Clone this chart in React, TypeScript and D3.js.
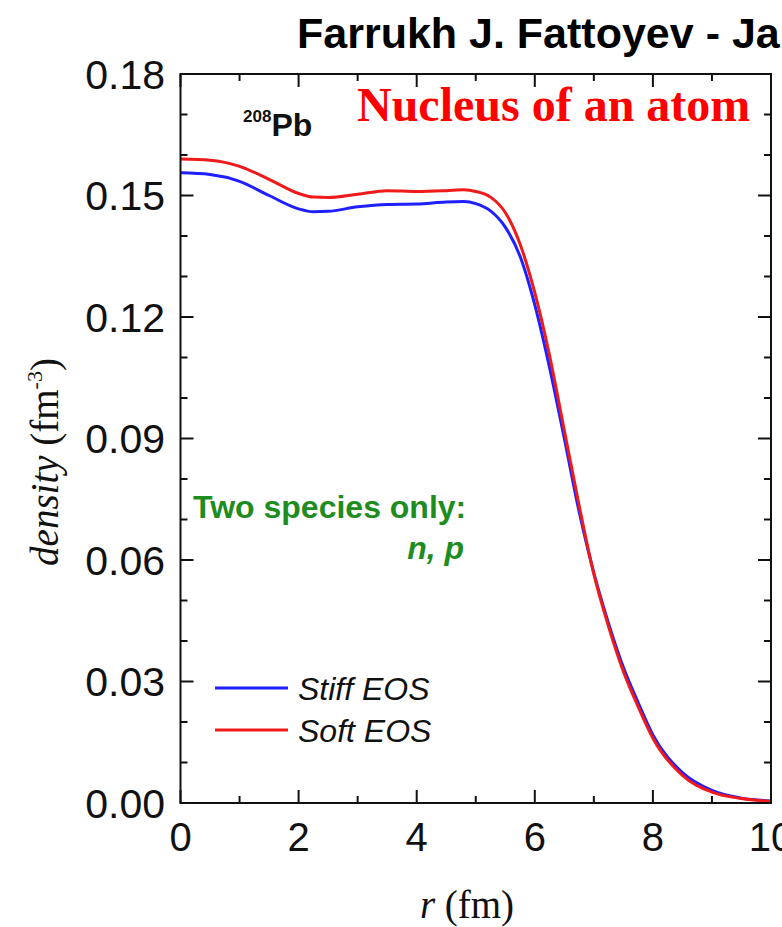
import React from "react";
import * as d3 from "d3";

// Radial density profiles of 208Pb
const radius = [0, 0.5, 1, 1.5, 2, 2.25, 2.5, 3, 3.5, 4, 4.5, 4.8, 5, 5.25, 5.5, 5.75, 6, 6.25, 6.5, 6.75, 7, 7.25, 7.5, 7.75, 8, 8.5, 9, 9.5, 10];
const stiffEOS = [0.1556, 0.1552, 0.1535, 0.15, 0.1467, 0.146, 0.1461, 0.1472, 0.1478, 0.1479, 0.1484, 0.1485, 0.148, 0.1462, 0.1422, 0.135, 0.123, 0.1075, 0.09, 0.072, 0.0568, 0.0443, 0.0335, 0.0248, 0.0168, 0.0075, 0.0031, 0.0012, 0.0005];
const softEOS = [0.159, 0.1587, 0.1572, 0.154, 0.1505, 0.1496, 0.1495, 0.1503, 0.1512, 0.151, 0.1512, 0.1514, 0.151, 0.1496, 0.1458, 0.138, 0.126, 0.1105, 0.092, 0.0735, 0.0565, 0.0435, 0.0325, 0.0238, 0.016, 0.0068, 0.0027, 0.0011, 0.0004];

const xTicks = [0, 2, 4, 6, 8, 10];
const xMinorTicks = [1, 3, 5, 7, 9];
const yTicks = [0, 0.03, 0.06, 0.09, 0.12, 0.15, 0.18];
const yMinorTicks = [0.01, 0.02, 0.04, 0.05, 0.07, 0.08, 0.1, 0.11, 0.13, 0.14, 0.16, 0.17];

const W = 782;
const H = 927;

export default function App() {
  const x = d3.scaleLinear().domain([0, 10]).range([180.5, 771]);
  const y = d3.scaleLinear().domain([0, 0.18]).range([803, 74]);
  const line = (vals: number[]) =>
    d3
      .line<number>()
      .x((_, i) => x(radius[i]))
      .y((v) => y(v))
      .curve(d3.curveMonotoneX)(vals) as string;

  const [x0, x1] = x.range();
  const [y0, y1] = y.range();
  const sans = "'Liberation Sans', Arial, sans-serif";
  const serif = "'Liberation Serif', 'Times New Roman', serif";
  const tickColor = "#111";

  return (
    <svg width={W} height={H} style={{ position: "absolute", left: 0, top: 0, background: "#fff" }}>
      <rect width={W} height={H} fill="#fff" />
      <text x={297} y={48} fontFamily={sans} fontWeight="bold" fontSize={43} fill="#000">
        Farrukh J. Fattoyev - Ja
      </text>

      {/* curves */}
      <path d={line(stiffEOS)} fill="none" stroke="#1f1fff" strokeWidth={3} />
      <path d={line(softEOS)} fill="none" stroke="#f01a1a" strokeWidth={3} />

      {/* frame */}
      <rect x={x0} y={y1} width={x1 - x0} height={y0 - y1} fill="none" stroke={tickColor} strokeWidth={2} />

      {/* x ticks, bottom and top */}
      {xTicks.map((t) => (
        <g key={"xt" + t}>
          <line x1={x(t)} x2={x(t)} y1={y0} y2={y0 - 13} stroke={tickColor} strokeWidth={2} />
          <line x1={x(t)} x2={x(t)} y1={y1} y2={y1 + 13} stroke={tickColor} strokeWidth={2} />
          <text x={x(t)} y={851} textAnchor="middle" fontFamily={sans} fontSize={40} fill="#111">
            {t}
          </text>
        </g>
      ))}
      {xMinorTicks.map((t) => (
        <g key={"xm" + t}>
          <line x1={x(t)} x2={x(t)} y1={y0} y2={y0 - 7} stroke={tickColor} strokeWidth={2} />
          <line x1={x(t)} x2={x(t)} y1={y1} y2={y1 + 7} stroke={tickColor} strokeWidth={2} />
        </g>
      ))}

      {/* y ticks, left and right */}
      {yTicks.map((t) => (
        <g key={"yt" + t}>
          <line x1={x0} x2={x0 + 13} y1={y(t)} y2={y(t)} stroke={tickColor} strokeWidth={2} />
          <line x1={x1} x2={x1 - 13} y1={y(t)} y2={y(t)} stroke={tickColor} strokeWidth={2} />
          <text x={165} y={y(t)} dy="0.36em" textAnchor="end" fontFamily={sans} fontSize={41} fill="#111">
            {d3.format(".2f")(t)}
          </text>
        </g>
      ))}
      {yMinorTicks.map((t) => (
        <g key={"ym" + t}>
          <line x1={x0} x2={x0 + 7} y1={y(t)} y2={y(t)} stroke={tickColor} strokeWidth={2} />
          <line x1={x1} x2={x1 - 7} y1={y(t)} y2={y(t)} stroke={tickColor} strokeWidth={2} />
        </g>
      ))}

      {/* axis titles */}
      <text x={467} y={918} textAnchor="middle" fontFamily={serif} fontSize={39} fill="#111">
        <tspan fontStyle="italic">r</tspan> (fm)
      </text>
      <text transform="translate(58,462) rotate(-90)" textAnchor="middle" fontFamily={serif} fontSize={39} fill="#111">
        <tspan fontStyle="italic">density</tspan> (fm
        <tspan fontSize={22} dy={-16}>-3</tspan>
        <tspan dy={16}>)</tspan>
      </text>

      {/* annotations */}
      <text x={243} y={136} fontFamily={sans} fontWeight="bold" fill="#111">
        <tspan fontSize={17} dy={-14}>208</tspan>
        <tspan fontSize={32} dy={14}>Pb</tspan>
      </text>
      <text x={357} y={121} fontFamily={serif} fontWeight="bold" fontSize={48} fill="#ff0000">
        Nucleus of an atom
      </text>
      <text x={193} y={518} fontFamily={sans} fontWeight="bold" fontSize={32} fill="#1e8c1e">
        Two species only:
      </text>
      <text x={464} y={559} textAnchor="end" fontFamily={sans} fontWeight="bold" fontStyle="italic" fontSize={32} fill="#1e8c1e">
        n, p
      </text>

      {/* legend */}
      <line x1={215} x2={288} y1={688} y2={688} stroke="#1f1fff" strokeWidth={3} />
      <text x={298} y={700} fontFamily={sans} fontStyle="italic" fontSize={32} fill="#111">
        Stiff EOS
      </text>
      <line x1={215} x2={288} y1={730} y2={730} stroke="#f01a1a" strokeWidth={3} />
      <text x={298} y={742} fontFamily={sans} fontStyle="italic" fontSize={32} fill="#111">
        Soft EOS
      </text>
    </svg>
  );
}
